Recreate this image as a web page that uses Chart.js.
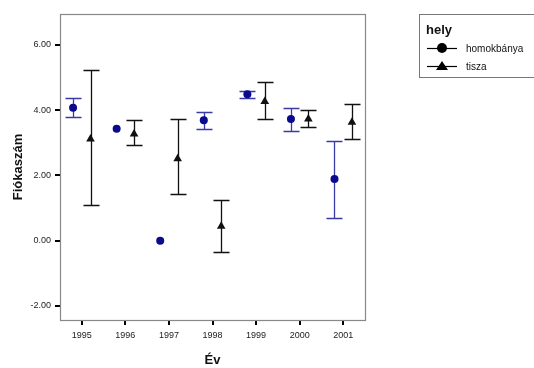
<!DOCTYPE html>
<html lang="hu">
<head>
<meta charset="UTF-8">
<title>Fiókaszám évenként</title>
<script src="https://cdn.jsdelivr.net/npm/chart.js"></script>
<style>
  html, body { margin: 0; padding: 0; background: #fff; }
  #wrap { width: 534px; height: 368px; }
</style>
</head>
<body>
<div id="wrap"><canvas id="c" width="534" height="368"></canvas></div>
<script>
// adatok (leolvasva az ábráról)
const years = [1995, 1996, 1997, 1998, 1999, 2000, 2001];
const yTicks = [-2, 0, 2, 4, 6];

const homokMean = [4.08, 3.43, 0.00, 3.69, 4.49, 3.73, 1.89];
const homokLow  = [3.79, null, null, 3.43, 4.39, 3.37, 0.69];
const homokHigh = [4.38, null, null, 3.96, 4.60, 4.08, 3.05];

const tiszaMean = [3.12, 3.27, 2.51, 0.44, 4.27, 3.73, 3.63];
const tiszaLow  = [1.08, 2.94, 1.42, -0.34, 3.73, 3.49, 3.13];
const tiszaHigh = [5.24, 3.69, 3.73, 1.25, 4.86, 4.02, 4.19];

const seriesNames = ['homokbánya', 'tisza'];

const HOMOK_DOT = '#0a0a8c';
const HOMOK_BAR = '#3b3ba6';
const TISZA = '#111111';

function pts(mean, shift) {
  return years.map((y, i) => ({ x: y + shift, y: mean[i] }));
}

// hibasávok kirajzolása a skálákon keresztül
const errorBars = {
  id: 'errorBars',
  beforeDatasetsDraw(chart) {
    const { ctx, scales: { x, y } } = chart;
    chart.data.datasets.forEach(ds => {
      ctx.save();
      ctx.strokeStyle = ds.barColor;
      ctx.lineWidth = 1.3;
      ds.data.forEach((p, i) => {
        if (ds.low[i] == null) return;
        const px = Math.round(x.getPixelForValue(p.x)) + 0.5;
        const yl = Math.round(y.getPixelForValue(ds.low[i])) + 0.5;
        const yh = Math.round(y.getPixelForValue(ds.high[i])) + 0.5;
        ctx.beginPath();
        ctx.moveTo(px, yl); ctx.lineTo(px, yh);
        ctx.moveTo(px - 8, yl); ctx.lineTo(px + 8, yl);
        ctx.moveTo(px - 8, yh); ctx.lineTo(px + 8, yh);
        ctx.stroke();
      });
      ctx.restore();
    });
  }
};

// keret, tengelycímek, jelmagyarázat
const frame = {
  id: 'frame',
  afterDraw(chart) {
    const { ctx, chartArea: a } = chart;
    ctx.save();
    ctx.strokeStyle = '#888';
    ctx.lineWidth = 1.2;
    ctx.strokeRect(Math.round(a.left) + 0.5, Math.round(a.top) + 0.5,
      Math.round(a.right - a.left), Math.round(a.bottom - a.top));

    ctx.fillStyle = '#111';
    ctx.font = 'bold 13px Arial, "Liberation Sans", sans-serif';
    ctx.textAlign = 'center';
    ctx.textBaseline = 'middle';
    ctx.fillText('Év', (a.left + a.right) / 2, 360);
    ctx.save();
    ctx.translate(18, (a.top + a.bottom) / 2);
    ctx.rotate(-Math.PI / 2);
    ctx.fillText('Fiókaszám', 0, 0);
    ctx.restore();

    // jelmagyarázat
    const lx = 419, ly = 14, lw = 115, lh = 63;
    ctx.strokeStyle = '#777';
    ctx.lineWidth = 1;
    ctx.strokeRect(lx + 0.5, ly + 0.5, lw, lh);
    ctx.textAlign = 'left';
    ctx.font = 'bold 13px Arial, "Liberation Sans", sans-serif';
    ctx.fillText('hely', lx + 7, ly + 16);
    ctx.font = '10px Arial, "Liberation Sans", sans-serif';
    chart.data.datasets.forEach((ds, i) => {
      const cy = ly + 34 + i * 18;
      ctx.strokeStyle = '#000';
      ctx.lineWidth = 1.2;
      ctx.beginPath();
      ctx.moveTo(lx + 8, cy + 0.5); ctx.lineTo(lx + 38, cy + 0.5);
      ctx.stroke();
      ctx.fillStyle = '#000';
      ctx.beginPath();
      if (ds.pointStyle === 'circle') {
        ctx.arc(lx + 23, cy, 5, 0, Math.PI * 2);
      } else {
        ctx.moveTo(lx + 23, cy - 5);
        ctx.lineTo(lx + 29, cy + 4);
        ctx.lineTo(lx + 17, cy + 4);
        ctx.closePath();
      }
      ctx.fill();
      ctx.fillStyle = '#111';
      ctx.fillText(ds.label, lx + 47, cy + 1);
    });
    ctx.restore();
  }
};

new Chart(document.getElementById('c'), {
  type: 'scatter',
  data: {
    datasets: [
      {
        label: seriesNames[0],
        data: pts(homokMean, -0.2),
        low: homokLow, high: homokHigh,
        barColor: HOMOK_BAR,
        pointStyle: 'circle',
        pointRadius: 4,
        pointHoverRadius: 4,
        backgroundColor: HOMOK_DOT,
        borderColor: HOMOK_DOT,
        borderWidth: 0
      },
      {
        label: seriesNames[1],
        data: pts(tiszaMean, 0.2),
        low: tiszaLow, high: tiszaHigh,
        barColor: TISZA,
        pointStyle: 'triangle',
        pointRadius: 5,
        pointHoverRadius: 5,
        backgroundColor: TISZA,
        borderColor: TISZA,
        borderWidth: 0
      }
    ]
  },
  options: {
    responsive: false,
    animation: false,
    layout: { padding: { top: 14, right: 169, left: 0, bottom: 0 } },
    plugins: { legend: { display: false }, tooltip: { enabled: false } },
    scales: {
      x: {
        type: 'linear',
        min: 1994.5,
        max: 2001.5,
        afterBuildTicks: s => { s.ticks = years.map(v => ({ value: v })); },
        afterFit: s => { s.height = 48; },
        border: { display: false },
        grid: { drawOnChartArea: false, drawTicks: true, tickLength: 5, color: '#000', lineWidth: 2 },
        ticks: {
          color: '#222',
          font: { family: 'Arial, "Liberation Sans", sans-serif', size: 9 },
          padding: 5,
          maxRotation: 0,
          callback: v => String(v)
        }
      },
      y: {
        min: -2.43,
        max: 6.95,
        afterBuildTicks: s => { s.ticks = yTicks.map(v => ({ value: v })); },
        afterFit: s => { s.width = 60; },
        border: { display: false },
        grid: { drawOnChartArea: false, drawTicks: true, tickLength: 5, color: '#000', lineWidth: 2 },
        ticks: {
          color: '#222',
          font: { family: 'Arial, "Liberation Sans", sans-serif', size: 9 },
          padding: 4,
          callback: v => v.toFixed(2)
        }
      }
    }
  },
  plugins: [errorBars, frame]
});
</script>
</body>
</html>
